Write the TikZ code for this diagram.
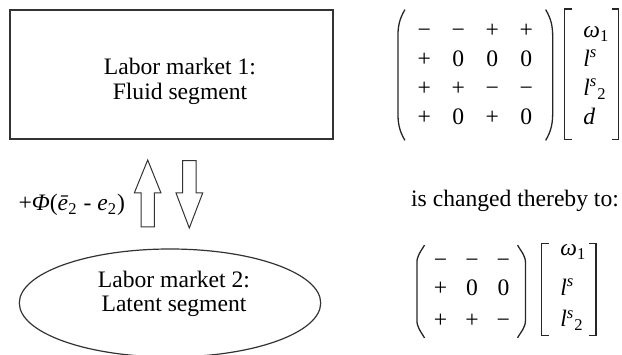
\documentclass[tikz,border=0pt]{standalone}
\usepackage{amsmath}
\usepackage{fontspec}
\setmainfont{Liberation Serif}
\usetikzlibrary{matrix, shapes.geometric}

\begin{document}
\begin{tikzpicture}[
        x=0.5pt, y=0.5pt,
        every node/.style={font=\fontsize{11.8pt}{12.2pt}\selectfont},
        market/.style={draw=black!80, line width=0.6pt, inner sep=0pt},
        bigarrow/.style={draw=black!80, line width=0.5pt, fill=white, line join=miter},
        delim/.style={draw=black!85, line width=0.65pt},
        signs/.style={matrix of nodes, inner sep=0pt,
                      nodes={inner sep=0pt, minimum width=17pt, text height=9pt, text depth=5.45pt}},
        vars/.style={matrix of nodes, inner sep=0pt,
                     nodes={anchor=base west, inner sep=0pt, text height=9pt, text depth=5.45pt}}
    ]
        \useasboundingbox (0,0) rectangle (622,354);

        % --- LABOR MARKETS ---
        \node[market, minimum width=161.5pt, minimum height=64.5pt] (fluid) at (171.5,279.5) {};
        \node[align=center] (fluidlabel) at (180,272.8) {Labor market 1:\\Fluid segment};

        \node[market, ellipse, minimum width=150.7pt, minimum height=54pt] (latent) at (170,51) {};
        \node[align=center] (latentlabel) at (174,60) {Labor market 2:\\Latent segment};

        % --- ADJUSTMENT ARROWS ---
        \node (shift) at (71.7,149) {+\textit{Φ}(\textit{ē}$_{\textup{2}}$ - \textit{e}$_{\textup{2}}$)};
        \draw[bigarrow] (141,127) -- (141,161) -- (134.3,161) -- (147.7,194) -- (161,161) -- (154.3,161) -- (154.3,127) -- cycle;
        \draw[bigarrow] (182.7,193.3) -- (182.7,161) -- (176,161) -- (189.3,126) -- (202.7,161) -- (196,161) -- (196,193.3) -- cycle;

        % --- SIGN MATRIX BEFORE ---
        \matrix[signs] (coef1) at (475.3,276.4) {
            − & − & + & + \\
            + & 0 & 0 & 0 \\
            + & + & − & − \\
            + & 0 & + & 0 \\
        };
        \draw[delim] ([shift={(-1pt,4.9pt)}]coef1.north west) to[out=240, in=90] ([shift={(-4.5pt,-9pt)}]coef1.north west)
            -- ([shift={(-4.5pt,12pt)}]coef1.south west) to[out=-90, in=120] ([shift={(-1pt,-2.3pt)}]coef1.south west);
        \draw[delim] ([shift={(1pt,4.9pt)}]coef1.north east) to[out=-60, in=90] ([shift={(4.5pt,-9pt)}]coef1.north east)
            -- ([shift={(4.5pt,12pt)}]coef1.south east) to[out=-90, in=60] ([shift={(1pt,-2.3pt)}]coef1.south east);

        \matrix[vars, anchor=west] (vec1) at (583,276.4) {
            \textit{ω}$_{\textup{1}}$ \\
            \textit{l}$^{\textit{s}}$ \\
            \textit{l}$^{\textit{s}}{}_{\textup{2}}$ \\
            \textit{d} \\
        };
        \draw[delim] ([shift={(-5.75pt,5.25pt)}]vec1.north west) -- ([shift={(-9.25pt,5.25pt)}]vec1.north west)
            -- ([shift={(-9.25pt,-1.95pt)}]vec1.south west) -- ([shift={(-5.75pt,-1.95pt)}]vec1.south west);
        \draw[delim] ([shift={(14.5pt,5.25pt)}]vec1.north west) -- ([shift={(17.75pt,5.25pt)}]vec1.north west)
            -- ([shift={(17.75pt,-1.95pt)}]vec1.south west) -- ([shift={(14.5pt,-1.95pt)}]vec1.south west);

        \node[anchor=base] (thereby) at (515,148) {is changed thereby to:};

        % --- SIGN MATRIX AFTER ---
        \matrix[signs, nodes={minimum width=15.7pt, text height=11pt, text depth=5pt}] (coef2) at (472,62.5) {
            − & − & − \\[-2pt]
            + & 0 & 0 \\
            + & + & − \\
        };
        \draw[delim] (coef2.north west) to[out=240, in=90] ([shift={(-3.8pt,-9pt)}]coef2.north west)
            -- ([shift={(-3.8pt,9pt)}]coef2.south west) to[out=-90, in=120] (coef2.south west);
        \draw[delim] ([xshift=-1pt]coef2.north east) to[out=-60, in=90] ([shift={(3pt,-9pt)}]coef2.north east)
            -- ([shift={(3pt,9pt)}]coef2.south east) to[out=-90, in=60] ([xshift=-1pt]coef2.south east);

        \matrix[vars, nodes={text height=11pt, text depth=5pt}, anchor=west] (vec2) at (560,68.5) {
            \textit{ω}$_{\textup{1}}$ \\[3.5pt]
            \textit{l}$^{\textit{s}}$ \\
            \textit{l}$^{\textit{s}}{}_{\textup{2}}$ \\
        };
        \draw[delim] ([shift={(-5.65pt,-5pt)}]vec2.north west) -- ([shift={(-9.15pt,-5pt)}]vec2.north west)
            -- ([shift={(-9.15pt,1pt)}]vec2.south west) -- ([shift={(-5.65pt,1pt)}]vec2.south west);
        \draw[delim] ([shift={(14.5pt,-5pt)}]vec2.north west) -- ([shift={(18pt,-5pt)}]vec2.north west)
            -- ([shift={(18pt,1pt)}]vec2.south west) -- ([shift={(14.5pt,1pt)}]vec2.south west);

\end{tikzpicture}
\end{document}
